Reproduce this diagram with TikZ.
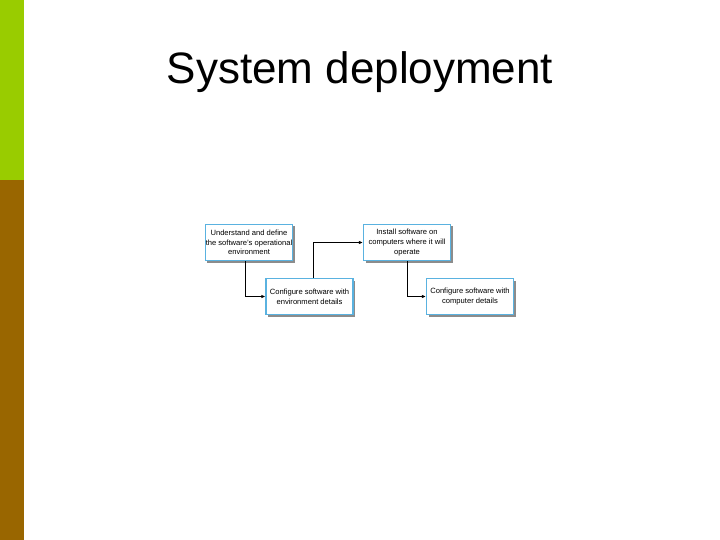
\documentclass[tikz,border=0pt]{standalone}
\usepackage{fontspec}
\setmainfont{Liberation Sans}
\usetikzlibrary{arrows.meta,shadows}
\definecolor{barGreen}{HTML}{99CC00}
\definecolor{barBrown}{HTML}{996600}
\definecolor{boxBlue}{HTML}{5AB2E0}
\tikzset{
  stepbox/.style={draw=boxBlue, line width=1.2pt, fill=white, minimum width=87pt, minimum height=36pt,
    align=center, inner sep=0.5pt, font=\fontsize{7.6}{9.6}\selectfont,
    drop shadow={shadow xshift=2pt, shadow yshift=-2pt, fill=black!45, opacity=1}},
  conn/.style={draw=black, line width=0.8pt, -{Latex[length=4pt,width=3.5pt]}}
}
\begin{document}
\begin{tikzpicture}[x=1pt,y=-1pt]
\useasboundingbox (0,0) rectangle (720,540);
\fill[white] (0,0) rectangle (720,540);
\fill[barGreen] (0,0) rectangle (24,180);
\fill[barBrown] (0,180) rectangle (24,540);
\node[font=\fontsize{44}{50}\selectfont, anchor=base] (title) at (360,84) {System deployment};
\node[stepbox] (b1) at (249,242.5) {Understand and define\\the software's operational\\environment};
\node[stepbox] (b2) at (309.5,296.5) {Configure software with\\environment details};
\node[stepbox] (b3) at (407,242.5) {Install software on\\computers where it will\\operate};
\node[stepbox] (b4) at (470,296.5) {Configure software with\\computer details};
\draw[conn] (b1.south -| 245,0) |- (b2.west);
\draw[conn] (b2.north -| 313,0) |- (b3.west);
\draw[conn] (b3.south -| 407,0) |- (b4.west);
\end{tikzpicture}
\end{document}
